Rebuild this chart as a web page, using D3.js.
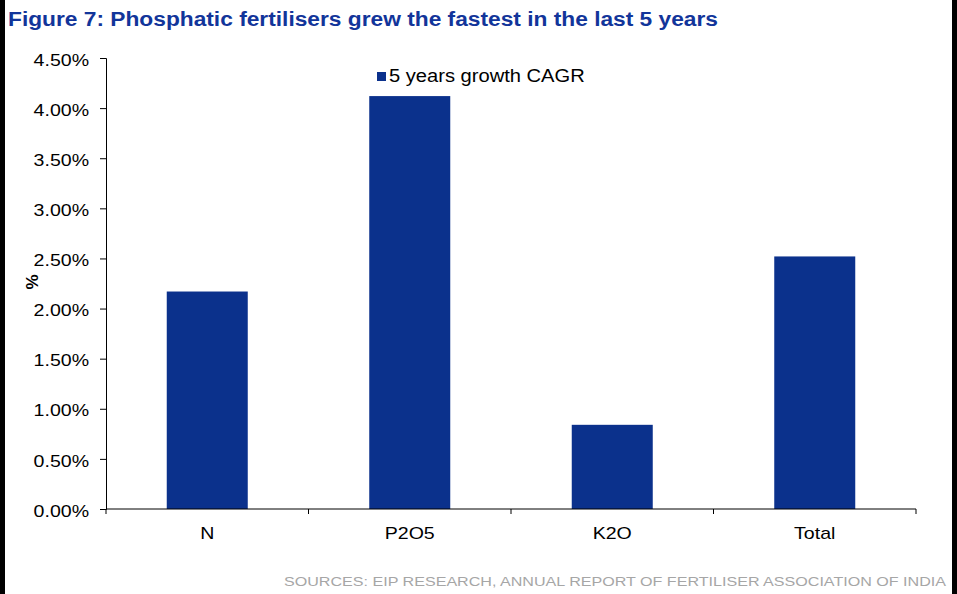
<!DOCTYPE html>
<html>
<head>
<meta charset="utf-8">
<script src="https://cdn.jsdelivr.net/npm/d3@7"></script>
<style>
  html, body { margin: 0; padding: 0; background: #fff; }
  svg { display: block; }
  text { font-family: "Liberation Sans", Arial, sans-serif; }
</style>
</head>
<body>
<svg id="chart" width="957" height="594"></svg>
<script>
// Five-year CAGR of fertiliser consumption by nutrient
const categories = ["N", "P2O5", "K2O", "Total"];
const cagr = [0.0217, 0.0412, 0.0084, 0.0252];
const yTicks = [0, 0.005, 0.01, 0.015, 0.02, 0.025, 0.03, 0.035, 0.04, 0.045];
const seriesName = "5 years growth CAGR";
const title = "Figure 7: Phosphatic fertilisers grew the fastest in the last 5 years";
const source = "SOURCES: EIP RESEARCH, ANNUAL REPORT OF FERTILISER ASSOCIATION OF INDIA";

const W = 957, H = 594;
const plot = { left: 106, right: 916, top: 58, bottom: 509 };
const barColor = "#0b318c";
const titleColor = "#12359a";
const stretch = 1.15; // labels are set slightly wide
const labelSize = 17;

const svg = d3.select("#chart");

// widen a text element horizontally by the given factor
function widen(sel, k) {
  sel.each(function () {
    const w = this.getComputedTextLength();
    d3.select(this).attr("textLength", w * k).attr("lengthAdjust", "spacingAndGlyphs");
  });
}

// frame strips at the page edges
svg.append("rect").attr("x", 0).attr("y", 0).attr("width", 5).attr("height", H).attr("fill", "#000");
svg.append("rect").attr("x", 952).attr("y", 0).attr("width", 5).attr("height", H).attr("fill", "#000");

// title
svg.append("text")
  .attr("x", 8).attr("y", 26)
  .attr("font-size", 20).attr("font-weight", "bold")
  .attr("fill", titleColor)
  .attr("textLength", 710).attr("lengthAdjust", "spacingAndGlyphs")
  .text(title);

// scales
const x = d3.scaleBand().domain(categories)
  .range([plot.left, plot.right]).paddingInner(0.6).paddingOuter(0.3);
const xCells = d3.scaleBand().domain(categories)
  .range([plot.left, plot.right]).padding(0);
const y = d3.scaleLinear().domain([0, 0.045]).range([plot.bottom, plot.top]);

// bars
svg.append("g").selectAll("rect")
  .data(categories.map((c, i) => ({ c, v: cagr[i] })))
  .join("rect")
  .attr("x", d => x(d.c))
  .attr("width", x.bandwidth())
  .attr("y", d => y(d.v))
  .attr("height", d => y(0) - y(d.v))
  .attr("fill", barColor);

// y axis
const yAxis = svg.append("g")
  .attr("transform", `translate(${plot.left},0)`)
  .call(d3.axisLeft(y).tickValues(yTicks).tickSize(6).tickPadding(11)
    .tickFormat(d => (d * 100).toFixed(2) + "%"));
yAxis.select(".domain").attr("stroke", "#000").attr("stroke-width", 1);
yAxis.selectAll(".tick line").attr("stroke", "#000");
yAxis.selectAll(".tick text")
  .attr("font-size", labelSize).attr("fill", "#000")
  .attr("font-family", "Liberation Sans, Arial, sans-serif")
  .attr("dy", "0.42em")
  .call(widen, stretch);

// y axis title
svg.append("text")
  .attr("transform", "translate(38,282) rotate(-90)")
  .attr("text-anchor", "middle")
  .attr("font-size", 17).attr("font-weight", "bold")
  .text("%");

// x axis: baseline, boundary ticks, category labels
const xAxis = svg.append("g");
xAxis.append("line")
  .attr("x1", plot.left).attr("x2", plot.right)
  .attr("y1", y(0)).attr("y2", y(0))
  .attr("stroke", "#000");
const bounds = categories.map(c => xCells(c)).concat([xCells(categories[categories.length - 1]) + xCells.bandwidth()]);
xAxis.selectAll("line.tk").data(bounds).join("line")
  .attr("class", "tk")
  .attr("x1", d => d).attr("x2", d => d)
  .attr("y1", y(0)).attr("y2", y(0) + 5)
  .attr("stroke", "#000");
xAxis.selectAll("text").data(categories).join("text")
  .attr("x", d => xCells(d) + xCells.bandwidth() / 2)
  .attr("y", 539)
  .attr("text-anchor", "middle")
  .attr("font-size", labelSize)
  .text(d => d)
  .call(widen, stretch);

// legend
const legend = svg.append("g");
legend.append("rect").attr("x", 377).attr("y", 72).attr("width", 9).attr("height", 9).attr("fill", barColor);
legend.append("text")
  .attr("x", 389).attr("y", 82)
  .attr("font-size", 17.5)
  .text(seriesName)
  .call(widen, stretch);

// source note
svg.append("text")
  .attr("x", 284).attr("y", 586)
  .attr("font-size", 13.5).attr("fill", "#a6a6a6")
  .attr("textLength", 662).attr("lengthAdjust", "spacingAndGlyphs")
  .text(source);
</script>
</body>
</html>
